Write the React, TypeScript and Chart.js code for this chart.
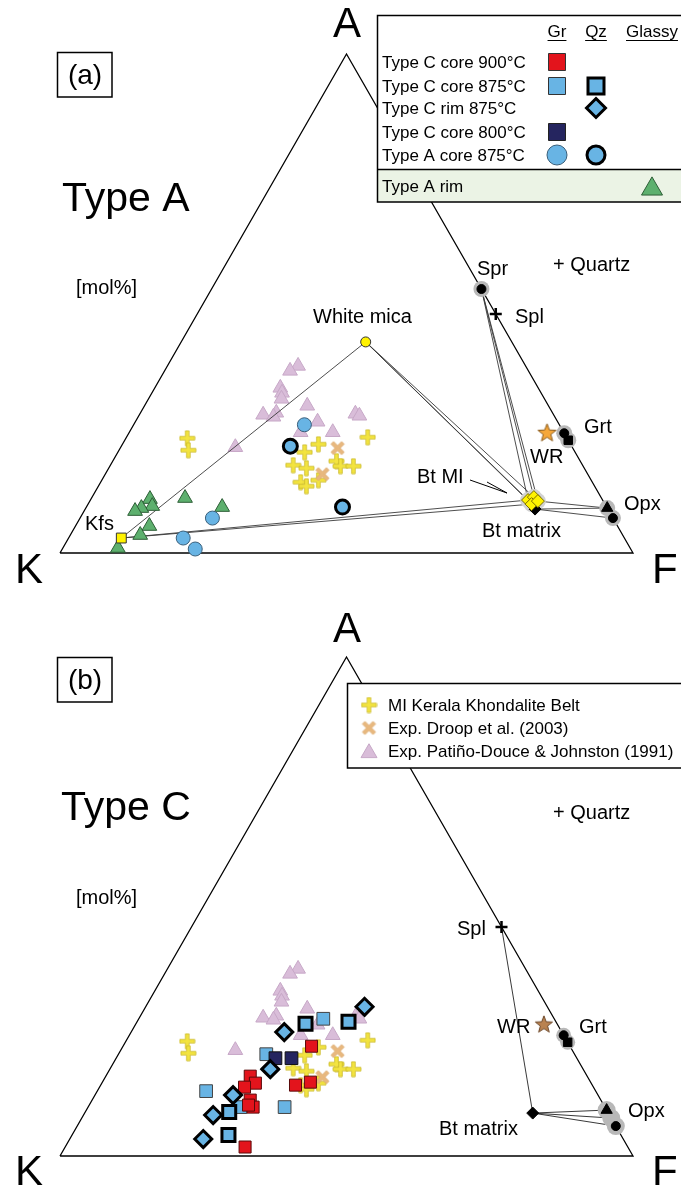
import React, { useEffect, useRef } from "react";
import { Chart, registerables } from "chart.js";

Chart.register(...registerables);

type T3 = [number, number, number]; // [A, K, F] in mol%

// ---------- literature data (shown in both panels) ----------
const kkbMeltInclusions: T3[] = [
  [23.0, 66.3, 10.7], [20.6, 67.3, 12.1], [20.2, 47.2, 32.6], [21.8, 44.0, 34.2],
  [23.2, 34.7, 42.1], [17.6, 50.5, 31.9], [17.0, 48.5, 34.5], [18.4, 42.5, 39.0],
  [17.4, 42.3, 40.2], [17.4, 40.1, 42.5], [14.6, 47.6, 37.8], [14.2, 50.9, 34.9],
  [13.4, 50.3, 36.3],
];
const droop2003: T3[] = [[21.0, 41.0, 37.9], [15.8, 46.3, 37.9]];
const patinoDouce1991: T3[] = [
  [37.5, 39.7, 22.8], [36.5, 41.6, 21.9], [33.1, 45.0, 21.9], [32.1, 45.2, 22.7],
  [30.9, 45.9, 23.2], [29.5, 42.1, 28.4], [27.7, 50.7, 21.6], [28.1, 48.2, 23.7],
  [27.3, 49.1, 23.6], [27.9, 34.5, 37.6], [27.5, 34.0, 38.5], [26.3, 41.9, 31.8],
  [24.2, 40.3, 35.5], [24.2, 45.9, 29.9], [21.2, 58.8, 20.0],
];

// ---------- panel (a): Type A ----------
const typeACore875Gr: T3[] = [[25.7, 44.5, 29.8], [7.0, 69.9, 23.1], [3.0, 77.0, 20.0], [0.8, 76.0, 23.2]];
const typeACore875Qz: T3[] = [[21.4, 49.1, 29.5], [9.2, 46.1, 44.7]];
const typeARimGlassy: T3[] = [
  [10.8, 78.9, 10.3], [9.4, 79.2, 11.4], [9.0, 81.3, 9.7], [8.4, 82.7, 8.9], [11.0, 72.6, 16.3],
  [9.2, 67.1, 23.7], [5.4, 81.7, 12.9], [3.6, 84.2, 12.2], [1.0, 89.4, 9.6],
];
const aKfs: T3[] = [[3.0, 87.8, 9.2]];
const aWhiteMica: T3[] = [[42.3, 25.5, 32.2]];
const aBtMI: T3[] = [[10.6, 13.0, 76.3], [11.2, 11.7, 77.1], [9.8, 12.8, 77.4], [10.4, 11.4, 78.2]];
const aBtMatrix: T3[] = [[8.8, 12.7, 78.5]];
const aSpr: T3[] = [[52.9, 0, 47.1]];
const aSpl: T3[] = [[47.9, 0, 52.1]];
const aGrtCircle: T3[] = [[24.0, 0, 76.0]];
const aGrtSquare: T3[] = [[22.6, 0, 77.4]];
const aOpxTri: T3[] = [[9.0, 0, 91.0]];
const aOpxCircle: T3[] = [[7.0, 0, 93.0]];
const aWR: T3[] = [[24.2, 2.9, 72.9]];

// ---------- panel (b): Type C ----------
const typeCCore900Gr: T3[] = [
  [22.0, 45.1, 32.9], [16.0, 58.8, 25.2], [14.6, 58.6, 26.8], [13.8, 60.9, 25.3], [14.2, 51.8, 34.0],
  [14.8, 48.9, 36.3], [11.2, 61.2, 27.6], [9.8, 61.4, 28.8], [10.2, 62.0, 27.8], [1.8, 66.8, 31.4],
];
const typeCCore875Gr: T3[] = [[27.5, 40.3, 32.2], [20.4, 53.8, 25.8], [13.0, 68.0, 19.0], [9.8, 55.9, 34.3], [9.8, 63.6, 26.6]];
const typeCCore875Qz: T3[] = [[26.5, 43.9, 29.6], [26.9, 36.2, 36.9], [8.8, 66.0, 25.1], [4.2, 68.5, 27.3]];
const typeCRim875Qz: T3[] = [[29.9, 31.9, 38.2], [24.8, 48.4, 26.7], [17.4, 54.6, 28.0], [12.2, 63.7, 24.1], [8.2, 69.1, 22.6], [3.4, 73.3, 23.3]];
const typeCCore800Gr: T3[] = [[19.6, 52.6, 27.8], [19.6, 49.8, 30.6]];
const bSpl: T3[] = [[45.9, 0, 54.1]];
const bGrtCircle: T3[] = [[24.2, 0, 75.8]];
const bGrtSquare: T3[] = [[22.8, 0, 77.2]];
const bWR: T3[] = [[26.5, 2.3, 71.2]];
const bBtMatrix: T3[] = [[8.6, 13.2, 78.2]];
const bOpxTri: T3[] = [[9.2, 0, 90.8]];
const bOpxCircle: T3[] = [[6.0, 0, 94.0]];
const bOpxField: T3[] = [[7.6, 0, 92.4]];

const vertices: T3[] = [[0, 100, 0], [0, 0, 100], [100, 0, 0], [0, 100, 0]];

// ---------- styling ----------
const FONT = '"Liberation Sans", Arial, sans-serif';
const LBLUE = "#68b4e4";
const RED = "#e3141c";
const NAVY = "#25255f";
const GREEN = "#5db06e";
const PURPLE = "#d9bdd9";
const GRAY = "#b8b8b8";

const XMIN = -60 / 573;
const XMAX = 621 / 573;

const P = (arr: T3[]) =>
  arr.map(([a, k, f]) => {
    const s = a + k + f;
    return { x: (f + a / 2) / s, y: a / s };
  });

function pts(data: T3[], style: any, r: number, fill: string, stroke: string, bw: number) {
  return {
    data: P(data),
    showLine: false,
    pointStyle: style,
    pointRadius: r,
    pointHoverRadius: r,
    pointBackgroundColor: fill,
    pointBorderColor: stroke,
    pointBorderWidth: bw,
    clip: false,
  };
}

function line(data: T3[], color: string, width: number) {
  return {
    data: P(data),
    showLine: true,
    pointRadius: 0,
    pointHoverRadius: 0,
    borderColor: color,
    borderWidth: width,
    borderJoinStyle: "miter",
    fill: false,
    tension: 0,
    clip: false,
  };
}

function makePlus(size: number, arm: number, fill: string, stroke: string, rot = 0) {
  const c = document.createElement("canvas");
  c.width = c.height = size;
  const g = c.getContext("2d")!;
  const h = size / 2, a = arm / 2, L = size / 2 - 1;
  g.translate(h, h);
  g.rotate(rot);
  g.beginPath();
  g.moveTo(-a, -L); g.lineTo(a, -L); g.lineTo(a, -a); g.lineTo(L, -a); g.lineTo(L, a); g.lineTo(a, a);
  g.lineTo(a, L); g.lineTo(-a, L); g.lineTo(-a, a); g.lineTo(-L, a); g.lineTo(-L, -a); g.lineTo(-a, -a);
  g.closePath();
  g.fillStyle = fill;
  g.fill();
  g.lineWidth = 0.8;
  g.strokeStyle = stroke;
  g.stroke();
  return c;
}

function makeStar(size: number, fill: string, stroke: string) {
  const c = document.createElement("canvas");
  c.width = c.height = size;
  const g = c.getContext("2d")!;
  const cx = size / 2, cy = size / 2 + 1, R = size / 2 - 1, r = R * 0.42;
  g.beginPath();
  for (let i = 0; i < 10; i++) {
    const ang = -Math.PI / 2 + (i * Math.PI) / 5;
    const rr = i % 2 ? r : R;
    g.lineTo(cx + rr * Math.cos(ang), cy + rr * Math.sin(ang));
  }
  g.closePath();
  g.fillStyle = fill;
  g.fill();
  g.lineWidth = 1;
  g.strokeStyle = stroke;
  g.stroke();
  return c;
}

function txt(ctx: CanvasRenderingContext2D, s: string, x: number, y: number, size: number, align: CanvasTextAlign = "left") {
  ctx.font = `${size}px ${FONT}`;
  ctx.textAlign = align;
  ctx.textBaseline = "alphabetic";
  ctx.fillStyle = "#000";
  ctx.fillText(s, x, y);
}

function shape(ctx: CanvasRenderingContext2D, kind: string, x: number, y: number, size: number, fill: string, stroke: string, lw: number) {
  ctx.beginPath();
  if (kind === "rect") ctx.rect(x - size / 2, y - size / 2, size, size);
  else if (kind === "diamond") {
    const h = size / 2;
    ctx.moveTo(x, y - h); ctx.lineTo(x + h, y); ctx.lineTo(x, y + h); ctx.lineTo(x - h, y); ctx.closePath();
  } else if (kind === "circle") ctx.arc(x, y, size / 2, 0, Math.PI * 2);
  else if (kind === "triangle") {
    const R = size / Math.sqrt(3);
    ctx.moveTo(x, y - R); ctx.lineTo(x + size / 2, y + R / 2); ctx.lineTo(x - size / 2, y + R / 2); ctx.closePath();
  }
  ctx.fillStyle = fill;
  ctx.fill();
  if (lw > 0) {
    ctx.lineWidth = lw;
    ctx.strokeStyle = stroke;
    ctx.stroke();
  }
}

function panelBox(ctx: CanvasRenderingContext2D, label: string, top: number) {
  ctx.lineWidth = 1.5;
  ctx.strokeStyle = "#000";
  ctx.strokeRect(57.5, top + 0.5, 54.5, 44.5);
  txt(ctx, label, 85, top + 32, 28, "center");
}

function vertexLabels(ctx: CanvasRenderingContext2D, aBase: number, kfBase: number) {
  txt(ctx, "A", 347, aBase, 42, "center");
  txt(ctx, "K", 15, kfBase, 42);
  txt(ctx, "F", 652, kfBase, 42);
}

function buildConfig(layers: any[], yMin: number, yMax: number, draw: (ctx: CanvasRenderingContext2D) => void) {
  const n = layers.length;
  return {
    type: "scatter",
    data: { datasets: layers.map((d, i) => ({ ...d, order: n - i })) },
    options: {
      animation: false,
      responsive: false,
      devicePixelRatio: 1,
      events: [],
      layout: { padding: 0, autoPadding: false },
      plugins: { legend: { display: false }, tooltip: { enabled: false }, title: { display: false } },
      scales: {
        x: { type: "linear", min: XMIN, max: XMAX, display: false },
        y: { type: "linear", min: yMin, max: yMax, display: false },
      },
    },
    plugins: [{ id: "annot", afterDatasetsDraw: (chart: any) => { const c = chart.ctx; c.save(); draw(c); c.restore(); } }],
  } as any;
}

export default function App() {
  const refA = useRef<HTMLCanvasElement>(null);
  const refB = useRef<HTMLCanvasElement>(null);

  useEffect(() => {
    document.body.style.margin = "0";
    const plusImg = makePlus(17, 3.6, "#f3e440", "#c9b92c");
    const xImg = makePlus(17, 3.6, "#e8b87e", "#dcaa70", Math.PI / 4);
    const starA = makeStar(21, "#f5a73a", "#8b5a1a");
    const starB = makeStar(20, "#b98250", "#6b4526");

    const literature = [
      pts(patinoDouce1991, "triangle", 8.5, PURPLE, "#c7a8c7", 1),
      pts(kkbMeltInclusions, plusImg, 8, "#f3e440", "#f3e440", 0),
      pts(droop2003, xImg, 8, "#e8b87e", "#e8b87e", 0),
    ];

    // ----- panel (a) -----
    const tieA: T3[][] = [
      [aKfs[0], aWhiteMica[0]],
      [aWhiteMica[0], aBtMI[0]], [aWhiteMica[0], aBtMI[1]], [aWhiteMica[0], aBtMI[2]],
      [aSpr[0], aBtMI[0]], [aSpr[0], aBtMI[1]], [aSpr[0], aBtMI[3]],
      [aKfs[0], aBtMI[0]], [aKfs[0], aBtMI[2]],
      [aBtMI[3], aOpxTri[0]], [aBtMatrix[0], aOpxTri[0]], [aBtMatrix[0], aOpxCircle[0]],
    ];
    const layersA = [
      line(vertices, "#000", 1.3),
      ...literature,
      ...tieA.map((p) => line(p, "#3a3a3a", 0.9)),
      pts([...aSpr, ...aGrtCircle, ...aGrtSquare, ...aOpxTri, ...aOpxCircle], "circle", 8, GRAY, GRAY, 0),
      pts(aBtMI, "circle", 8, "#d2d2d2", "#d2d2d2", 0),
      pts(typeARimGlassy, "triangle", 8.5, GREEN, "#2d5e36", 1),
      pts(typeACore875Gr, "circle", 7, LBLUE, "#3a5f7a", 1),
      pts(typeACore875Qz, "circle", 7, LBLUE, "#000", 3),
      pts(aSpr, "circle", 4.5, "#000", "#000", 1),
      pts(aSpl, "cross", 6, "#000", "#000", 2.5),
      pts(aGrtSquare, "rect", 6, "#000", "#000", 1),
      pts(aGrtCircle, "circle", 4.5, "#000", "#000", 1),
      pts(aOpxTri, "triangle", 6.5, "#000", "#000", 1),
      pts(aOpxCircle, "circle", 4.5, "#000", "#000", 1),
      pts(aBtMatrix, "rectRot", 6, "#000", "#000", 1),
      pts(aBtMI, "rectRot", 6.5, "#fff200", "#7a6c00", 1),
      pts(aWhiteMica, "circle", 5, "#fff200", "#333", 1),
      pts(aKfs, "rect", 7, "#fff200", "#333", 1),
      pts(aWR, starA, 10, "#f5a73a", "#8b5a1a", 0),
    ];

    const drawA = (ctx: CanvasRenderingContext2D) => {
      vertexLabels(ctx, 37, 583);
      panelBox(ctx, "(a)", 52);
      txt(ctx, "Type A", 62, 211, 41);
      txt(ctx, "[mol%]", 76, 294, 20);
      txt(ctx, "+ Quartz", 553, 271, 20);
      txt(ctx, "White mica", 313, 323, 20);
      txt(ctx, "Spr", 477, 275, 20);
      txt(ctx, "Spl", 515, 323, 20);
      txt(ctx, "Grt", 584, 433, 20);
      txt(ctx, "WR", 530, 463, 20);
      txt(ctx, "Bt MI", 417, 483, 20);
      txt(ctx, "Opx", 624, 510, 20);
      txt(ctx, "Bt matrix", 482, 537, 20);
      txt(ctx, "Kfs", 85, 530, 20);
      // pointer from "Bt MI"
      ctx.beginPath();
      ctx.moveTo(470, 480); ctx.lineTo(507, 493);
      ctx.moveTo(487, 482); ctx.lineTo(507, 493);
      ctx.lineWidth = 1;
      ctx.strokeStyle = "#000";
      ctx.stroke();

      // legend
      ctx.fillStyle = "#fff";
      ctx.fillRect(377, 15, 306, 187);
      ctx.fillStyle = "#ebf3e5";
      ctx.fillRect(377, 169, 306, 33);
      ctx.lineWidth = 1.5;
      ctx.strokeStyle = "#000";
      ctx.strokeRect(377.5, 15.5, 306, 186.5);
      ctx.beginPath();
      ctx.moveTo(377, 169.5); ctx.lineTo(683, 169.5);
      ctx.stroke();
      const heads: [string, number][] = [["Gr", 557], ["Qz", 596], ["Glassy", 652]];
      heads.forEach(([h, x]) => {
        txt(ctx, h, x, 37, 17, "center");
        ctx.font = `17px ${FONT}`;
        const w = ctx.measureText(h).width;
        ctx.beginPath();
        ctx.lineWidth = 1;
        ctx.moveTo(x - w / 2, 40.5); ctx.lineTo(x + w / 2, 40.5);
        ctx.stroke();
      });
      const rows: [string, number][] = [
        ["Type C core 900°C", 62], ["Type C core 875°C", 86], ["Type C rim 875°C", 108],
        ["Type C core 800°C", 132], ["Type A core 875°C", 155],
      ];
      rows.forEach(([s, y]) => txt(ctx, s, 382, y + 6, 17));
      txt(ctx, "Type A rim", 382, 192, 17);
      shape(ctx, "rect", 557, 62, 17, RED, "#333", 1);
      shape(ctx, "rect", 557, 86, 17, LBLUE, "#333", 1);
      shape(ctx, "rect", 596, 86, 16, LBLUE, "#000", 3);
      shape(ctx, "diamond", 596, 108, 19, LBLUE, "#000", 3);
      shape(ctx, "rect", 557, 132, 17, NAVY, "#222", 1);
      shape(ctx, "circle", 557, 155, 20, LBLUE, "#3a5f7a", 1);
      shape(ctx, "circle", 596, 155, 18, LBLUE, "#000", 3);
      shape(ctx, "triangle", 652, 189, 21, GREEN, "#2d5e36", 1);
    };

    // ----- panel (b) -----
    const tieB: T3[][] = [
      [bSpl[0], bBtMatrix[0]],
      [bBtMatrix[0], bOpxTri[0]], [bBtMatrix[0], bOpxField[0]], [bBtMatrix[0], bOpxCircle[0]],
    ];
    const layersB = [
      line(vertices, "#000", 1.3),
      ...literature,
      ...tieB.map((p) => line(p, "#222", 0.9)),
      pts([...bGrtCircle, ...bGrtSquare], "circle", 7.5, GRAY, GRAY, 0),
      pts([...bOpxTri, ...bOpxField, ...bOpxCircle], "circle", 9, GRAY, GRAY, 0),
      pts(typeCCore875Gr, "rect", 9, LBLUE, "#444", 1),
      pts(typeCCore900Gr, "rect", 8.5, RED, "#5a0a0a", 1),
      pts(typeCCore800Gr, "rect", 9, NAVY, "#111", 1),
      pts(typeCCore875Qz, "rect", 9.2, LBLUE, "#000", 3),
      pts(typeCRim875Qz, "rectRot", 8.5, LBLUE, "#000", 3),
      pts(bSpl, "cross", 6, "#000", "#000", 2.5),
      pts(bGrtSquare, "rect", 6, "#000", "#000", 1),
      pts(bGrtCircle, "circle", 4.5, "#000", "#000", 1),
      pts(bOpxTri, "triangle", 6.5, "#000", "#000", 1),
      pts(bOpxCircle, "circle", 4.5, "#000", "#000", 1),
      pts(bBtMatrix, "rectRot", 6, "#000", "#000", 1),
      pts(bWR, starB, 10, "#b98250", "#6b4526", 0),
    ];

    const drawB = (ctx: CanvasRenderingContext2D) => {
      vertexLabels(ctx, 48, 591);
      panelBox(ctx, "(b)", 63);
      txt(ctx, "Type C", 61, 226, 41);
      txt(ctx, "[mol%]", 76, 310, 20);
      txt(ctx, "+ Quartz", 553, 225, 20);
      txt(ctx, "Spl", 457, 341, 20);
      txt(ctx, "WR", 497, 439, 20);
      txt(ctx, "Grt", 579, 439, 20);
      txt(ctx, "Opx", 628, 523, 20);
      txt(ctx, "Bt matrix", 439, 541, 20);
      // legend
      ctx.fillStyle = "#fff";
      ctx.fillRect(347, 89, 336, 85);
      ctx.lineWidth = 1.5;
      ctx.strokeStyle = "#000";
      ctx.strokeRect(347.5, 89.5, 336, 84.5);
      ctx.drawImage(plusImg, 369 - 8.5, 111 - 8.5);
      ctx.drawImage(xImg, 369 - 8.5, 134 - 8.5);
      shape(ctx, "triangle", 369, 159, 16, PURPLE, "#c7a8c7", 1);
      txt(ctx, "MI Kerala Khondalite Belt", 388, 117, 17);
      txt(ctx, "Exp. Droop et al. (2003)", 388, 140, 17);
      txt(ctx, "Exp. Patiño-Douce & Johnston (1991)", 388, 163, 17);
    };

    const ca = new Chart(refA.current!, buildConfig(layersA, -41 / 499, 553 / 499, drawA));
    const cb = new Chart(refB.current!, buildConfig(layersB, -32 / 499, 562 / 499, drawB));
    return () => {
      ca.destroy();
      cb.destroy();
    };
  }, []);

  return (
    <div style={{ width: 681, background: "#fff" }}>
      <canvas ref={refA} width={681} height={594} style={{ display: "block" }} />
      <canvas ref={refB} width={681} height={594} style={{ display: "block" }} />
    </div>
  );
}
